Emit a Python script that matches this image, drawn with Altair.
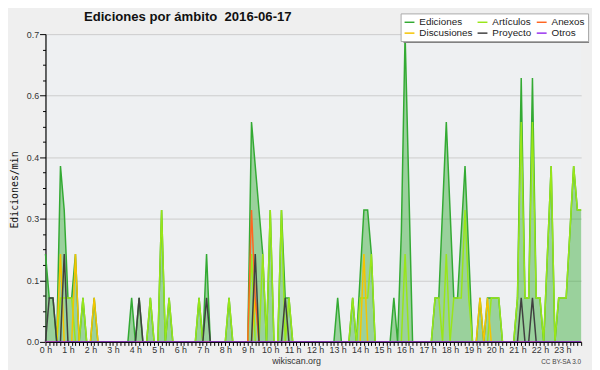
import altair as alt
import pandas as pd

# ---------------- data (10-minute bins, edits per minute) ----------------
series_names = ["Ediciones", "Artículos", "Anexos", "Discusiones", "Proyecto", "Otros"]
series_colors = ["#33aa33", "#99e619", "#ff6622", "#f5c400", "#404040", "#9933ee"]

n_bins = 144  # 0:00 .. 23:50

ediciones = [
    0.2, 0.1, 0.1, 0, 0.4, 0.3, 0.1, 0.1, 0.2, 0, 0.1, 0,          # 0h-1h50
    0, 0.1, 0, 0, 0, 0, 0, 0, 0, 0, 0, 0.1,                          # 2h-3h50
    0, 0.1, 0, 0, 0.1, 0, 0, 0.3, 0, 0.1, 0, 0,                      # 4h-5h50
    0, 0, 0, 0, 0, 0.1, 0, 0.2, 0, 0, 0, 0,                          # 6h-7h50
    0, 0.1, 0, 0, 0, 0, 0, 0.5, 0.4, 0.3, 0.2, 0,                    # 8h-9h50
    0.3, 0, 0, 0.3, 0.1, 0.1, 0, 0, 0, 0, 0, 0,                      # 10h-11h50
    0, 0, 0, 0, 0, 0, 0.1, 0, 0, 0, 0.1, 0,                          # 12h-13h50
    0.15, 0.3, 0.3, 0.2, 0, 0, 0, 0, 0, 0.1, 0, 0.25,                # 14h-15h50
    0.7, 0.35, 0, 0, 0, 0, 0, 0, 0.1, 0.1, 0.3, 0.5,                 # 16h-17h50
    0.3, 0.1, 0.1, 0.25, 0.4, 0.2, 0, 0, 0.1, 0, 0.1, 0.1,           # 18h-19h50
    0.1, 0.1, 0, 0, 0, 0, 0.1, 0.6, 0.1, 0.1, 0.6, 0.1,              # 20h-21h50
    0.1, 0, 0.2, 0.4, 0, 0.1, 0.1, 0.1, 0.25, 0.4, 0.3, 0.3,         # 22h-23h50
]

articulos = [
    0, 0, 0, 0, 0.1, 0.1, 0.1, 0.1, 0, 0, 0.1, 0,
    0, 0, 0, 0, 0, 0, 0, 0, 0, 0, 0, 0,
    0, 0, 0, 0, 0.1, 0, 0, 0.3, 0, 0.1, 0, 0,
    0, 0, 0, 0, 0, 0.1, 0, 0, 0, 0, 0, 0,
    0, 0.1, 0, 0, 0, 0, 0, 0.2, 0, 0, 0.2, 0,
    0.3, 0, 0, 0.3, 0, 0.1, 0, 0, 0, 0, 0, 0,
    0, 0, 0, 0, 0, 0, 0, 0, 0, 0, 0.1, 0,
    0.1, 0.1, 0.1, 0.2, 0, 0, 0, 0, 0, 0, 0, 0,
    0.2, 0, 0, 0, 0, 0, 0, 0, 0.1, 0.1, 0, 0.2,
    0, 0.1, 0.1, 0.1, 0.3, 0.1, 0, 0, 0, 0, 0, 0.1,
    0.1, 0.1, 0, 0, 0, 0, 0.1, 0.5, 0.1, 0.1, 0.5, 0.1,
    0.1, 0, 0.2, 0.4, 0, 0.1, 0.1, 0.1, 0.25, 0.4, 0.3, 0.3,
]

anexos_bins = [55, 56]
anexos_vals = [0.3, 0.1]

discusiones_bins = [4, 8, 13, 56, 85, 116, 118]
discusiones_vals = [0.2, 0.2, 0.1, 0.1, 0.2, 0.1, 0.1]

proyecto_bins = [1, 2, 5, 25, 43, 56, 64, 127, 130]
proyecto_vals = [0.1, 0.1, 0.2, 0.1, 0.1, 0.2, 0.1, 0.1, 0.1]

otros_bins = []
otros_vals = []

y_ticks = [round(k * 0.035, 4) for k in range(21)]
x_ticks = [i / 6 for i in range(n_bins)]

title_text = "Ediciones por ámbito\u00a0 2016-06-17"
y_title_text = "Ediciones/min"
site_text = "wikiscan.org"
license_text = "CC BY-SA 3.0"


def expand(bins, vals):
    out = [0.0] * n_bins
    for b, v in zip(bins, vals):
        out[b] = v
    return out


series_values = {
    "Ediciones": ediciones,
    "Artículos": articulos,
    "Anexos": expand(anexos_bins, anexos_vals),
    "Discusiones": expand(discusiones_bins, discusiones_vals),
    "Proyecto": expand(proyecto_bins, proyecto_vals),
    "Otros": expand(otros_bins, otros_vals),
}

rows = []
for name in series_names:
    for i, v in enumerate(series_values[name]):
        rows.append({"hora": i / 6, "serie": name, "valor": v})
df = pd.DataFrame(rows)

# ---------------- chart ----------------
W, H = 543, 312
major_test = "round(datum.value / 0.035) % 4 == 0"

x_enc = alt.X(
    "hora:Q",
    scale=alt.Scale(domain=[0, (n_bins - 1) / 6], nice=False, zero=False),
    axis=alt.Axis(
        values=x_ticks,
        labelExpr="abs(datum.value - round(datum.value)) < 0.001 ? round(datum.value) + ' h' : ''",
        labelOverlap=False,
        labelFlush=False,
        labelBound=False,
        labelFont="Liberation Sans",
        labelFontSize=9,
        labelColor="#333333",
        labelPadding=0,
        tickSize=3.5,
        tickColor="#000000",
        domainColor="#000000",
        grid=False,
        title=None,
        zindex=1,
    ),
)

y_enc = alt.Y(
    "valor:Q",
    scale=alt.Scale(domain=[0, 0.7], nice=False, zero=True),
    axis=alt.Axis(
        values=y_ticks,
        labelExpr=major_test + " ? format(datum.value, '.1f') : ''",
        labelOverlap=False,
        labelFlush=False,
        labelFont="Liberation Sans",
        labelFontSize=9,
        labelColor="#333333",
        labelPadding=1,
        tickSize={"condition": {"test": major_test, "value": 6}, "value": 3},
        tickColor="#000000",
        domainColor="#000000",
        domainWidth=1.2,
        gridColor={"condition": {"test": major_test, "value": "#cccccc"}, "value": "rgba(0,0,0,0)"},
        grid=True,
        title=None,
    ),
)

color_scale = alt.Scale(domain=series_names, range=series_colors)
legend = alt.Legend(
    orient="none",
    direction="horizontal",
    legendX=360,
    legendY=-21,
    columns=3,
    title=None,
    symbolType="stroke",
    symbolStrokeWidth=1.5,
    symbolSize=100,
    labelFont="Liberation Sans",
    labelFontSize=10,
    labelColor="#222222",
    labelOffset=4,
    columnPadding=2,
    rowPadding=0,
    padding=3,
    fillColor="#ffffff",
    strokeColor="#aaaaaa",
)

area = (
    alt.Chart(df)
    .transform_filter(alt.datum.serie == "Ediciones")
    .mark_area(color="#33aa33", opacity=0.45)
    .encode(x=x_enc, y=y_enc)
)

draw_order = ["Ediciones", "Artículos", "Discusiones", "Anexos", "Proyecto", "Otros"]
lines = [
    alt.Chart(df)
    .transform_filter(alt.datum.serie == name)
    .mark_line(strokeWidth=1.5)
    .encode(x=x_enc, y=y_enc, color=alt.Color("serie:N", scale=color_scale, legend=legend))
    for name in draw_order
]

shadow = (
    alt.Chart(pd.DataFrame({"k": [0]}))
    .mark_rect(color="#808080")
    .encode(x=alt.value(363), x2=alt.value(551), y=alt.value(-18), y2=alt.value(9))
)

title_mark = (
    alt.Chart(pd.DataFrame({"t": [title_text]}))
    .mark_text(font="Liberation Sans", fontSize=13.3, fontWeight="bold", align="left",
               baseline="alphabetic", color="#111111")
    .encode(text="t:N", x=alt.value(39), y=alt.value(-13.5))
)
ytitle_mark = (
    alt.Chart(pd.DataFrame({"t": [y_title_text]}))
    .mark_text(font="DejaVu Sans Mono", fontSize=10, angle=270, align="center",
               baseline="middle", color="#111111")
    .encode(text="t:N", x=alt.value(-31), y=alt.value(158))
)
site_mark = (
    alt.Chart(pd.DataFrame({"t": [site_text]}))
    .mark_text(font="Liberation Sans", fontSize=9, align="center",
               baseline="alphabetic", color="#333333")
    .encode(text="t:N", x=alt.value(254.5), y=alt.value(334))
)
license_mark = (
    alt.Chart(pd.DataFrame({"t": [license_text]}))
    .mark_text(font="Liberation Sans", fontSize=6.5, align="right",
               baseline="alphabetic", color="#444444")
    .encode(text="t:N", x=alt.value(543), y=alt.value(334))
)

chart = (
    alt.layer(area, *lines, shadow, title_mark, ytitle_mark, site_mark, license_mark)
    .properties(
        width=W,
        height=H,
        autosize=alt.AutoSizeParams(type="none"),
        padding={"left": 38, "top": 24, "right": 11, "bottom": 26},
        background="#efefef",
    )
    .configure_view(stroke=None, fill="#eef0f2")
)

chart.save("out.html", embed_options={"renderer": "svg", "actions": False})
